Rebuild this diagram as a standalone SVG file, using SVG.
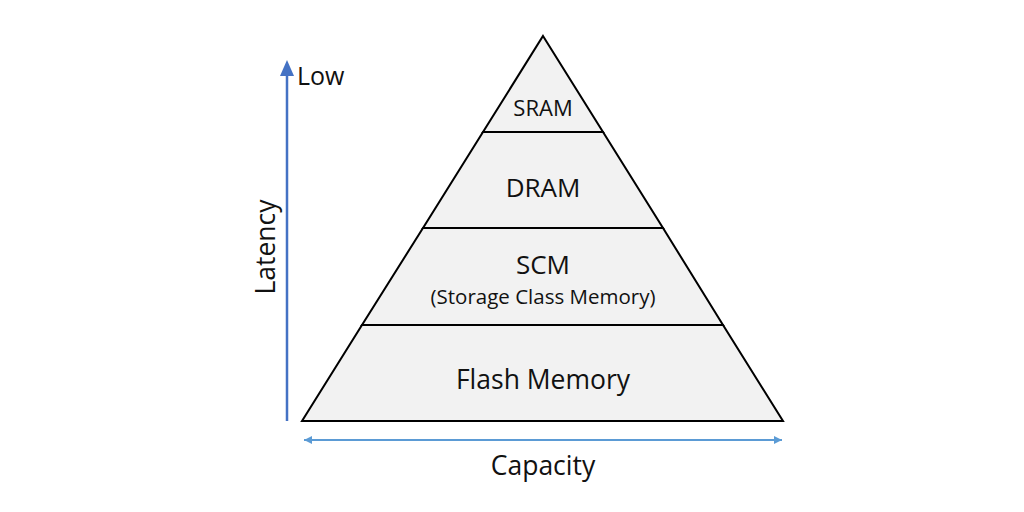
<svg xmlns="http://www.w3.org/2000/svg" width="1024" height="512" viewBox="0 0 1024 512">
<defs>
<style>
text{font-family:"Open Sans","Liberation Sans",sans-serif;fill:#111;text-anchor:middle}
.tier{fill:#f2f2f2;stroke:#000;stroke-width:2}
</style>
<marker id="ah" markerWidth="8" markerHeight="8" refX="8" refY="4" orient="auto-start-reverse" markerUnits="userSpaceOnUse" viewBox="0 0 8 8"><path d="M0,0 L8,4 L0,8 Z" fill="#5B9BD5"/></marker>
</defs>
<rect width="1024" height="512" fill="#fff"/>
<g id="connectors">
<line x1="287" y1="421" x2="287" y2="68" stroke="#4472C4" stroke-width="2.5"/>
<path d="M280,76 L287,60 L294,76 Z" fill="#4472C4"/>
<line x1="304" y1="440" x2="782" y2="440" stroke="#5B9BD5" stroke-width="2" marker-start="url(#ah)" marker-end="url(#ah)"/>
</g>
<g id="sram"><path class="tier" d="M543,36 L603,132 L483,132 Z"/><text x="543" y="116" font-size="22">SRAM</text></g>
<g id="dram"><path class="tier" d="M483,132 L603,132 L663,228 L423,228 Z"/><text x="543" y="197" font-size="26">DRAM</text></g>
<g id="scm"><path class="tier" d="M423,228 L663,228 L723,325 L362,325 Z"/><text x="543" y="274" font-size="26">SCM</text><text x="543" y="304" font-size="20.5">(Storage Class Memory)</text></g>
<g id="flash"><path class="tier" d="M362,325 L723,325 L783,421 L302,421 Z"/><text x="543" y="389" font-size="26.5">Flash Memory</text></g>
<g id="labels">
<text x="297" y="85" font-size="25" style="text-anchor:start">Low</text>
<text x="543" y="475" font-size="26.5">Capacity</text>
<text transform="translate(275,247) rotate(-90)" font-size="26.5">Latency</text>
</g>
</svg>
